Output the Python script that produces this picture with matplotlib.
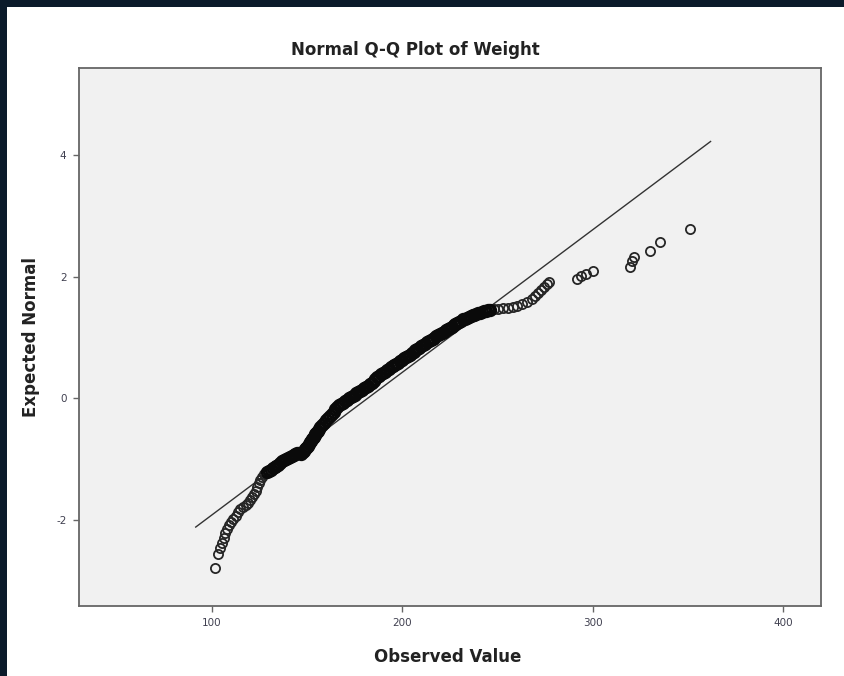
import matplotlib
matplotlib.use("Agg")
import matplotlib.pyplot as plt
from matplotlib.patches import Rectangle

plt.rcParams["axes.unicode_minus"] = False

# observed weights and their expected normal scores
obs_low = [101.6, 103.3, 104.5, 105.3, 106.2, 107.0, 108.0, 109.0, 110.0, 111.2,
           112.5, 113.8, 115.0, 116.4, 117.8, 119.0, 120.2, 121.3, 122.3, 123.2,
           124.0, 124.8, 125.6, 126.5, 127.5, 128.5]
exp_low = [-2.79, -2.56, -2.47, -2.38, -2.30, -2.22, -2.15, -2.09, -2.03, -1.98,
           -1.93, -1.88, -1.83, -1.79, -1.75, -1.72, -1.68, -1.63, -1.58, -1.52,
           -1.46, -1.40, -1.34, -1.29, -1.25, -1.22]

obs_mid = [129, 130, 131, 132, 133, 134, 135, 136, 137, 138, 139, 140, 141, 142,
           143, 144, 145, 146, 147, 148, 148.5, 149, 149.5, 150, 150.5, 151, 151.5,
           152, 152.5, 153, 153.5, 154, 154.5, 155, 155.5, 156, 156.5, 157, 158,
           159, 160, 161, 162, 163, 164, 165, 166, 167, 168, 169, 170, 171, 172,
           173, 174, 175, 176, 177, 178, 179, 180, 181, 182, 183, 184, 185, 186,
           187, 188, 189, 190, 191, 192, 193, 194, 195, 196, 197, 198, 199, 200,
           201, 202, 203, 204, 205, 206, 207, 208, 209, 210, 211, 212, 213, 214,
           215, 216, 217, 218, 219, 220, 221, 222, 223, 224, 225, 226, 227, 228,
           229, 230, 231, 232, 233, 234, 235, 236, 237, 238, 239, 240, 241, 242,
           243, 244, 245, 246]
exp_mid = [-1.22, -1.20, -1.18, -1.15, -1.13, -1.11, -1.09, -1.06, -1.04, -1.02,
           -1.00, -0.98, -0.96, -0.95, -0.93, -0.91, -0.90, -0.90, -0.91, -0.88,
           -0.86, -0.84, -0.82, -0.80, -0.78, -0.75, -0.72, -0.70, -0.67, -0.65,
           -0.63, -0.61, -0.59, -0.57, -0.55, -0.53, -0.50, -0.48, -0.44, -0.40,
           -0.36, -0.33, -0.29, -0.25, -0.22, -0.18, -0.14, -0.11, -0.09, -0.07,
           -0.05, -0.03, 0.00, 0.02, 0.04, 0.06, 0.08, 0.10, 0.12, 0.14, 0.17,
           0.19, 0.21, 0.24, 0.26, 0.29, 0.32, 0.35, 0.37, 0.40, 0.42, 0.44, 0.46,
           0.49, 0.51, 0.53, 0.55, 0.57, 0.59, 0.61, 0.63, 0.66, 0.68, 0.70, 0.72,
           0.75, 0.77, 0.79, 0.81, 0.83, 0.86, 0.88, 0.90, 0.92, 0.94, 0.96, 0.98,
           1.00, 1.02, 1.04, 1.06, 1.08, 1.10, 1.12, 1.14, 1.16, 1.18, 1.20, 1.22,
           1.24, 1.26, 1.28, 1.30, 1.31, 1.33, 1.34, 1.36, 1.37, 1.38, 1.39, 1.40,
           1.41, 1.42, 1.43, 1.44, 1.45, 1.46]

obs_high = [248, 250.5, 253, 255.5, 258, 260.5, 263, 265.5, 268, 270, 271.6, 273,
            274.5, 276, 277, 292, 294, 296.5, 300.5, 319.5, 320.5, 322, 330,
            335.3, 351]
exp_high = [1.47, 1.47, 1.48, 1.49, 1.50, 1.52, 1.55, 1.59, 1.64, 1.69, 1.74, 1.79,
            1.84, 1.88, 1.92, 1.96, 2.01, 2.05, 2.09, 2.17, 2.26, 2.33, 2.43,
            2.58, 2.79]

# reference line end points
line_x = [91.6, 362]
line_y = [-2.12, 4.23]

xticks = [100, 200, 300, 400]
yticks = [-2, 0, 2, 4]

fig = plt.figure(figsize=(8.44, 6.76), dpi=100)
fig.patch.set_facecolor("white")

# dark frame strips on the left and top
fig.patches.append(Rectangle((0, 0), 7 / 844, 1, transform=fig.transFigure,
                             facecolor="#0b1b2b", edgecolor="none", zorder=5))
fig.patches.append(Rectangle((0, 1 - 7 / 676), 1, 7 / 676, transform=fig.transFigure,
                             facecolor="#0b1b2b", edgecolor="none", zorder=5))

ax = fig.add_axes([79 / 844, 1 - 606 / 676, (821 - 79) / 844, (606 - 68) / 676])
ax.set_facecolor("#f1f1f1")

ax.plot(line_x, line_y, color="#333333", lw=1.0, zorder=2)

# tails: separate rings
ax.plot(obs_low + obs_high, exp_low + exp_high, linestyle="none", marker="o",
        markersize=6.6, markerfacecolor="none", markeredgecolor="#262626",
        markeredgewidth=1.3, zorder=3)
# dense middle: rings merge into a solid band
ax.plot(obs_mid, exp_mid, linestyle="none", marker="o", markersize=7.8,
        markerfacecolor="none", markeredgecolor="#0a0a0a", markeredgewidth=1.8,
        zorder=3)

ax.set_xlim(30.3, 420)
ax.set_ylim(-3.42, 5.44)
ax.set_xticks(xticks)
ax.set_yticks(yticks)
ax.tick_params(direction="out", length=4, width=1, color="#666666",
               labelsize=7.5, labelcolor="#404050", pad=5)
for s in ["top", "right", "left", "bottom"]:
    ax.spines[s].set_color("#666666")
    ax.spines[s].set_linewidth(1.3)

fig.text(415 / 844, 1 - 50 / 676, "Normal Q-Q Plot of Weight", ha="center",
         va="center", fontsize=12, fontweight="bold", color="#222222")
fig.text(448 / 844, 1 - 657 / 676, "Observed Value", ha="center", va="center",
         fontsize=12, fontweight="bold", color="#222222")
fig.text(31 / 844, 1 - 337 / 676, "Expected Normal", ha="center", va="center",
         rotation=90, fontsize=12, fontweight="bold", color="#222222")

fig.savefig("out.png", dpi=100)
